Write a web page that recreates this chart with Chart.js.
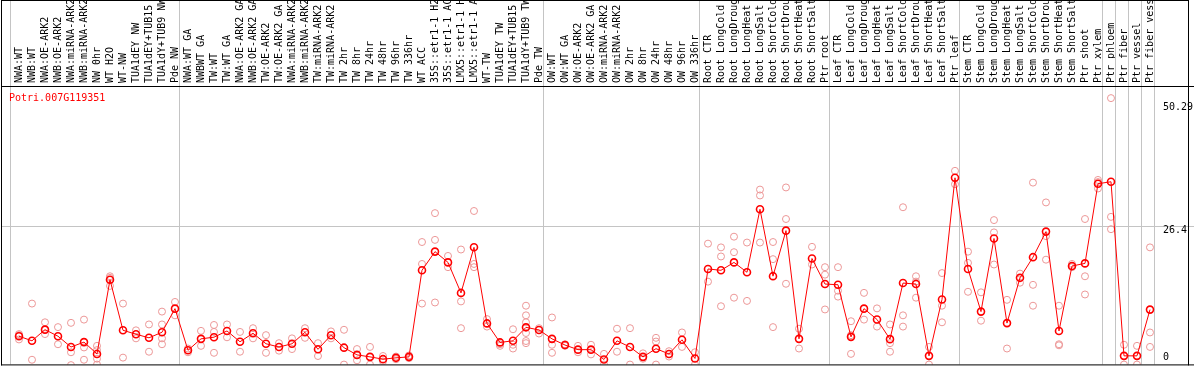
<!DOCTYPE html>
<html>
<head>
<meta charset="utf-8">
<script src="https://cdn.jsdelivr.net/npm/chart.js@4"></script>
<style>
  html, body { margin: 0; padding: 0; background: #fff; }
  canvas { display: block; }
</style>
</head>
<body>
<canvas id="c" width="1194" height="370"></canvas>
<script>
// ---------------- data ----------------
const geneId = 'Potri.007G119351';

const categories = [
  'NWA:WT','NWB:WT','NWA:OE-ARK2','NWB:OE-ARK2','NWA:miRNA-ARK2','NWB:miRNA-ARK2','NW 0hr','WT H2O','WT-NW','TUA1dEY NW',
  'TUA1dEY+TUB15','TUA1dY+TUB9 NW','Pde NW','NWA:WT GA','NWBWT GA','TW:WT','TW:WT GA','NWA:OE-ARK2 GA','NWB:OE-ARK2 GA','TW:OE-ARK2',
  'TW:OE-ARK2 GA','NWA:miRNA-ARK2','NWB:miRNA-ARK2','TW:miRNA-ARK2','TW:miRNA-ARK2','TW 2hr','TW 8hr','TW 24hr','TW 48hr','TW 96hr',
  'TW 336hr','WT ACC','35S::etr1-1 H2','35S::etr1-1 AC','LMX5::etr1-1 H','LMX5::etr1-1 A','WT-TW','TUA1dEY TW','TUA1dEY+TUB15','TUA1dY+TUB9 TW',
  'Pde TW','OW:WT','OW:WT GA','OW:OE-ARK2','OW:OE-ARK2 GA','OW:miRNA-ARK2','OW:miRNA-ARK2','OW 2hr','OW 8hr','OW 24hr',
  'OW 48hr','OW 96hr','OW 336hr','Root CTR','Root LongCold','Root LongDroug','Root LongHeat','Root LongSalt','Root ShortCold','Root ShortDrou',
  'Root ShortHeat','Root ShortSalt','Ptr root','Leaf CTR','Leaf LongCold','Leaf LongDroug','Leaf LongHeat','Leaf LongSalt','Leaf ShortCold','Leaf ShortDrou',
  'Leaf ShortHeat','Leaf ShortSalt','Ptr leaf','Stem CTR','Stem LongCold','Stem LongDroug','Stem LongHeat','Stem LongSalt','Stem ShortCold','Stem ShortDrou',
  'Stem ShortHeat','Stem ShortSalt','Ptr shoot','Ptr xylem','Ptr phloem','Ptr fiber','Ptr vessel','Ptr fiber vess'
];

// mean expression per sample
const means = [
  5.80,4.94,7.03,5.80,3.78,4.70,2.49,16.34,6.91,6.17,
  5.50,6.54,10.95,3.17,5.31,5.62,6.78,4.76,6.35,4.39,
  3.78,4.39,6.54,3.35,5.99,3.66,2.31,1.94,1.51,1.76,
  1.94,18.12,21.61,19.59,13.89,22.41,8.19,4.64,4.94,7.46,
  6.97,5.31,4.15,3.29,3.29,1.45,4.94,3.78,1.94,3.47,
  2.49,5.13,1.64,18.36,18.12,19.59,17.75,29.52,17.02,25.53,
  5.31,20.32,15.55,15.42,5.68,10.95,8.93,5.25,15.73,15.55,
  2.13,12.67,35.40,18.36,10.40,24.06,8.25,16.71,20.57,25.35,
  6.78,18.92,19.41,34.30,34.66,2.13,2.13,10.77
];

// individual replicate values per sample
const replicates = [
  [6.2,5.2,6.0],[11.9,1.4],[8.4,6.2,7.0],[7.5,4.3],[8.3,2.8,0.4],[8.9,3.7,1.4],[4.0,3.2,1.6,0.5],[17.0,16.7,15.2],[11.9,1.8],[6.9,5.4],
  [8.0,2.9],[10.4,8.0,5.4,4.3],[12.2,9.7],[3.5,2.8],[6.8,4.0],[7.9,6.6,2.7],[8.0,5.6],[6.6,2.9],[7.3,5.4],[6.0,2.7],
  [4.5,3.1],[5.4,3.4],[7.3,5.5],[4.5,2.1],[6.7,5.4],[7.0,0.5],[3.4,1.3],[3.8,0.5],[2.1,1.1],[2.0,1.5],
  [2.2,1.7],[23.4,19.3,11.9],[28.8,23.8,12.1],[20.8,18.7],[22.0,12.3,7.3],[29.2,19.3,18.7],[9.0,7.6],[4.3,4.0],[7.1,4.2,3.5],[11.5,9.7,8.4,6.4,4.9,4.5],
  [7.3,6.3],[9.3,4.2,2.7],[4.3,4.0],[4.0,2.8],[4.2,2.4],[2.5,0.5],[7.2,2.9],[7.3,0.5],[2.6,1.6],[5.5,4.8,0.5],
  [3.0,2.0],[6.5,3.8],[2.8,0.5],[23.1,16.0],[22.4,20.7,11.4],[24.4,21.5,13.0],[23.3,12.4],[33.2,32.1,23.3],[23.4,20.2,7.5],[33.6,27.7,15.6],
  [7.2,3.5],[22.5,19.2],[18.7,17.3,10.8],[18.7,14.3,13.2],[8.6,6.0,2.5],[13.9,8.9],[11.0,7.6],[8.0,4.5,2.9],[29.9,9.7,7.6],[17.0,16.0,13.0],
  [3.8,0.5],[17.6,11.5,8.4],[36.7,34.2],[21.6,19.5,14.1],[14.0,8.7],[27.5,25.2,19.2],[12.6,3.5],[17.5,15.8],[34.5,15.4,11.5],[30.8,24.5,20.1],
  [11.5,4.3,4.1],[19.3,18.8,18.7],[27.7,17.0,13.6],[35.0,34.6,33.4],[50.29,28.1,25.8],[4.2,0.5],[4.0,0.5],[22.4,6.5,3.8]
];

// y-axis tick values / labels and horizontal grid value
const yTickValues = [0, 26.4, 50.29];
const yTickLabels = ['0', '26.4', '50.29'];
const yGridValues = [26.4];

// sample-group boundaries (index of first sample of each group, plus end)
const groupBounds = [0, 13, 41, 53, 63, 73, 84, 85, 86, 87, 88];

// ---------------- chart ----------------
const MONO = "'DejaVu Sans Mono', 'Liberation Mono', monospace";
const meanPoints = means.map((v, i) => ({ x: i, y: v }));
const repPoints = replicates.flatMap((arr, i) => arr.map(v => ({ x: i, y: v })));

const framePlugin = {
  id: 'frame',
  beforeDatasetsDraw(chart) {
    const { ctx, chartArea, width } = chart;
    const xs = chart.scales.x, ys = chart.scales.y;
    ctx.save();
    ctx.fillStyle = '#c4c4c4';
    groupBounds.forEach(k => {
      const px = Math.round(xs.getPixelForValue(k - 0.5));
      ctx.fillRect(px - 1, 0, 1, chartArea.bottom);
    });
    yGridValues.forEach(v => {
      const py = Math.round(ys.getPixelForValue(v));
      ctx.fillRect(2, py, width - 2, 1);
    });
    ctx.restore();
  },
  afterDraw(chart) {
    const { ctx, chartArea, width } = chart;
    const ys = chart.scales.y;
    ctx.save();
    ctx.fillStyle = '#000';
    ctx.fillRect(1, 0, 1188, 1);
    ctx.fillRect(1, 0, 1, chartArea.bottom + 1);
    ctx.fillRect(1188, 0, 1, chartArea.bottom + 1);
    ctx.fillRect(1, chartArea.top, width - 1, 1);
    ctx.fillRect(1, chartArea.bottom, width - 1, 1);
    ctx.font = '10px ' + MONO;
    ctx.textAlign = 'left';
    ctx.textBaseline = 'middle';
    ctx.fillStyle = '#000';
    yTickValues.forEach((v, i) => {
      let py = ys.getPixelForValue(v) + 4;
      py = Math.max(chartArea.top + 21, Math.min(chartArea.bottom - 7, py));
      ctx.fillText(yTickLabels[i], chartArea.right + 8, py);
    });
    ctx.fillStyle = '#ff0000';
    ctx.textBaseline = 'alphabetic';
    ctx.fillText(geneId, chartArea.left - 2, chartArea.top + 15);
    ctx.restore();
  }
};

new Chart(document.getElementById('c'), {
  type: 'line',
  data: {
    labels: categories,
    datasets: [
      {
        label: 'mean',
        data: meanPoints,
        xAxisID: 'xr',
        yAxisID: 'y',
        borderColor: '#ff0000',
        borderWidth: 1,
        pointRadius: 3.5,
        pointBorderWidth: 1.6,
        pointBorderColor: '#ff0000',
        pointBackgroundColor: 'rgba(255,255,255,0)',
        fill: false,
        tension: 0,
        order: 0
      },
      {
        label: 'replicates',
        data: repPoints,
        xAxisID: 'xr',
        yAxisID: 'y',
        showLine: false,
        pointRadius: 3.5,
        pointBorderWidth: 1,
        pointBorderColor: '#ec9797',
        pointBackgroundColor: 'rgba(255,255,255,0)',
        order: 1
      }
    ]
  },
  options: {
    responsive: false,
    animation: false,
    events: [],
    layout: { padding: { left: 11, right: 0, top: 0, bottom: 1 } },
    plugins: { legend: { display: false }, tooltip: { enabled: false }, title: { display: false } },
    scales: {
      x: {
        type: 'category',
        position: 'top',
        offset: true,
        grid: { display: false, drawTicks: false },
        border: { display: false },
        ticks: {
          autoSkip: false,
          minRotation: 90,
          maxRotation: 90,
          padding: 3,
          labelOffset: 14,
          color: '#000',
          font: { family: MONO, size: 10 }
        },
        afterFit(s) { s.height = 86; }
      },
      xr: {
        type: 'linear',
        display: false,
        min: -0.615,
        max: 87.385
      },
      y: {
        type: 'linear',
        position: 'right',
        min: 0.533,
        max: 52.555,
        grid: { display: false, drawTicks: false },
        border: { display: false },
        ticks: { display: false },
        afterFit(s) { s.width = 39; }
      }
    }
  },
  plugins: [framePlugin]
});
</script>
</body>
</html>
